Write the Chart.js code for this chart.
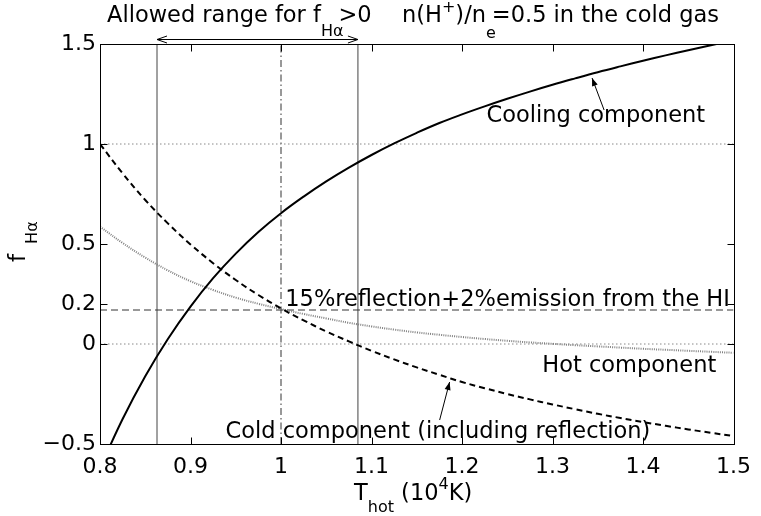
<!DOCTYPE html>
<html><head><meta charset="utf-8">
<script src="https://cdn.jsdelivr.net/npm/chart.js@4/dist/chart.umd.min.js"></script>
<style>html,body{margin:0;padding:0;background:#fff}canvas{display:block}</style>
</head><body>
<canvas id="c" width="761" height="516"></canvas>
<script>
// T_hot (10^4 K) sample positions
const tHot = [0.800,0.825,0.850,0.875,0.900,0.925,0.950,0.975,1.000,1.025,1.050,1.075,1.100,1.125,1.150,1.175,1.200,1.225,1.250,1.275,1.300,1.325,1.350,1.375,1.400,1.425,1.450,1.475,1.500];
// f_Halpha of each component
const cooling = [-0.62,-0.375,-0.161,0.025,0.187,0.329,0.452,0.560,0.654,0.737,0.813,0.882,0.945,1.003,1.056,1.105,1.148,1.188,1.226,1.262,1.296,1.328,1.359,1.388,1.416,1.443,1.469,1.494,1.518];
const cold    = [1.00,0.853,0.72,0.603,0.498,0.404,0.32,0.245,0.178,0.118,0.063,0.013,-0.034,-0.077,-0.117,-0.154,-0.19,-0.221,-0.25,-0.277,-0.302,-0.326,-0.349,-0.37,-0.39,-0.409,-0.427,-0.444,-0.46];
const hot     = [0.587,0.505,0.432,0.368,0.314,0.27,0.232,0.201,0.175,0.15,0.128,0.106,0.088,0.072,0.058,0.046,0.035,0.025,0.016,0.008,0.001,-0.006,-0.012,-0.018,-0.024,-0.029,-0.034,-0.039,-0.044];
// reference levels
const reflectionLevel = 0.17;
const allowedRange = [0.863, 1.085];
const unityT = 1.0;
const xTicks = [0.8,0.9,1.0,1.1,1.2,1.3,1.4,1.5];
const yTicks = [-0.5,0,0.2,0.5,1,1.5];

const pts = arr => tHot.map((x,i)=>({x, y: arr[i]}));
const hline = v => [{x:0.8,y:v},{x:1.5,y:v}];
const vline = v => [{x:v,y:-0.5},{x:v,y:1.5}];
const FONT = '"DejaVu Sans"';

function rich(ctx, x, y, parts){
  let cx = x;
  parts.forEach(p=>{
    ctx.font = p.s + 'px ' + FONT;
    ctx.fillText(p.t, cx, y + (p.dy||0));
    cx += ctx.measureText(p.t).width + (p.gap||0);
  });
}
function openHead(ctx, tx, ty, fx, fy, len, hw){
  const a = Math.atan2(ty-fy, tx-fx);
  ctx.beginPath();
  ctx.moveTo(tx - len*Math.cos(a) + hw*Math.sin(a), ty - len*Math.sin(a) - hw*Math.cos(a));
  ctx.lineTo(tx, ty);
  ctx.lineTo(tx - len*Math.cos(a) - hw*Math.sin(a), ty - len*Math.sin(a) + hw*Math.cos(a));
  ctx.stroke();
}
function filledArrow(ctx, fx, fy, tx, ty){
  ctx.beginPath(); ctx.moveTo(fx,fy); ctx.lineTo(tx,ty); ctx.stroke();
  const a = Math.atan2(ty-fy, tx-fx), len=8, hw=3;
  ctx.beginPath();
  ctx.moveTo(tx,ty);
  ctx.lineTo(tx - len*Math.cos(a) + hw*Math.sin(a), ty - len*Math.sin(a) - hw*Math.cos(a));
  ctx.lineTo(tx - len*Math.cos(a) - hw*Math.sin(a), ty - len*Math.sin(a) + hw*Math.cos(a));
  ctx.closePath(); ctx.fill();
}

const annot = {
  id:'annot',
  afterDraw(chart){
    const {ctx, chartArea:a, scales:{x:sx, y:sy}} = chart;
    const px = v=>sx.getPixelForValue(v), py = v=>sy.getPixelForValue(v);
    ctx.save();
    ctx.strokeStyle='#000'; ctx.fillStyle='#000'; ctx.lineWidth=1; ctx.setLineDash([]);
    const L=Math.round(a.left)+0.5, R=Math.round(a.right)+0.5, T=Math.round(a.top)+0.5, B=Math.round(a.bottom)+0.5;
    ctx.strokeRect(L, T, R-L, B-T);
    ctx.beginPath();
    xTicks.forEach(v=>{const X=Math.round(px(v))+0.5; ctx.moveTo(X,B); ctx.lineTo(X,B-7); ctx.moveTo(X,T); ctx.lineTo(X,T+7);});
    yTicks.forEach(v=>{const Y=Math.round(py(v))+0.5; ctx.moveTo(L,Y); ctx.lineTo(L+7,Y); ctx.moveTo(R,Y); ctx.lineTo(R-7,Y);});
    ctx.stroke();

    // allowed range double arrow
    const ay = py(1.5225), x1 = px(allowedRange[0]), x2 = px(allowedRange[1]);
    ctx.beginPath(); ctx.moveTo(x1, ay); ctx.lineTo(x2, ay); ctx.stroke();
    openHead(ctx, x1, ay, x2, ay, 10, 3.5);
    openHead(ctx, x2, ay, x1, ay, 10, 3.5);

    // annotation arrows
    filledArrow(ctx, px(1.357), py(1.17), px(1.3437), py(1.33));
    filledArrow(ctx, px(1.1753), py(-0.38), px(1.1863), py(-0.19));

    ctx.textAlign='left'; ctx.textBaseline='alphabetic';
    // titles
    rich(ctx, 107, 22, [{t:'Allowed range for f', s:22.5},{t:'Hα', s:16, dy:14, gap:-5},{t:'>0', s:22.5}]);
    rich(ctx, 402, 22, [{t:'n(H', s:22.5},{t:'+', s:16, dy:-10},{t:')/n', s:22.5},{t:'e', s:16, dy:16, gap:-4},{t:'=0.5 in the cold gas', s:22.5}]);
    // curve labels
    rich(ctx, px(1.227), py(1.11), [{t:'Cooling component', s:22.5}]);
    rich(ctx, px(1.2887), py(-0.1385), [{t:'Hot component', s:22.5}]);
    rich(ctx, px(0.9387), py(-0.47), [{t:'Cold component (including reflection)', s:22.5}]);
    rich(ctx, px(1.0047), py(0.19), [{t:'15%reflection+2%emission from the HI', s:22.5}]);
    // axis titles
    rich(ctx, 354, 500, [{t:'T', s:22.5},{t:'hot', s:16, dy:12},{t:' (10', s:22.5},{t:'4', s:16, dy:-11},{t:'K)', s:22.5}]);
    ctx.save();
    ctx.translate(25, 262); ctx.rotate(-Math.PI/2);
    rich(ctx, 0, 0, [{t:'f', s:23, gap:10},{t:'Hα', s:16, dy:12}]);
    ctx.restore();
    ctx.restore();
  }
};

new Chart(document.getElementById('c'), {
  type:'line',
  data:{ datasets:[
    {label:'Cooling component', data:pts(cooling), borderColor:'#000', borderWidth:2, pointRadius:0, tension:0.4, fill:false},
    {label:'Cold component (including reflection)', data:pts(cold), borderColor:'#000', borderWidth:2, borderDash:[6,4], pointRadius:0, tension:0.4, fill:false},
    {label:'Hot component', data:pts(hot), borderColor:'#808080', borderWidth:2, borderDash:[1,1.2], pointRadius:0, tension:0.4, fill:false},
    {label:'f=1', data:hline(1), borderColor:'#888', borderWidth:1, borderDash:[1.5,2.5], pointRadius:0},
    {label:'f=0', data:hline(0), borderColor:'#888', borderWidth:1, borderDash:[1.5,2.5], pointRadius:0},
    {label:'reflection+emission', data:hline(reflectionLevel), borderColor:'#333', borderWidth:1, borderDash:[7,4], pointRadius:0},
    {label:'range low', data:vline(allowedRange[0]), borderColor:'#444', borderWidth:1, pointRadius:0},
    {label:'range high', data:vline(allowedRange[1]), borderColor:'#444', borderWidth:1, pointRadius:0},
    {label:'T=1', data:vline(unityT), borderColor:'#333', borderWidth:1, borderDash:[7,3,1.5,3], pointRadius:0}
  ]},
  options:{
    responsive:false, animation:false, devicePixelRatio:1,
    layout:{padding:{left:0, right:26, top:44, bottom:0}},
    plugins:{legend:{display:false}, tooltip:{enabled:false}},
    scales:{
      x:{type:'linear', min:0.8, max:1.5,
        afterBuildTicks:s=>{s.ticks = xTicks.map(v=>({value:v}));},
        afterFit:s=>{s.height=72;},
        grid:{display:false, drawTicks:false}, border:{display:false},
        ticks:{padding:10, color:'#000', maxRotation:0, autoSkip:false, font:{family:'DejaVu Sans', size:22},
          callback:v=>String(Math.round(v*10)/10)}
      },
      y:{type:'linear', min:-0.5, max:1.5,
        afterBuildTicks:s=>{s.ticks = yTicks.map(v=>({value:v}));},
        afterFit:s=>{s.width=100;},
        grid:{display:false, drawTicks:false}, border:{display:false},
        ticks:{padding:4, color:'#000', autoSkip:false, font:{family:'DejaVu Sans', size:22},
          callback:v=>v<0 ? '−'+Math.abs(v) : String(v)}
      }
    }
  },
  plugins:[annot]
});
</script>
</body></html>
